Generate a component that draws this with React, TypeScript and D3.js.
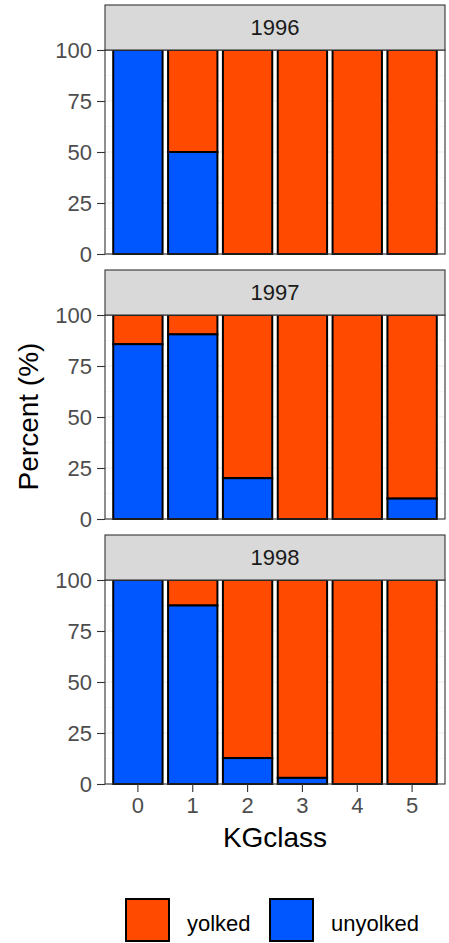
import * as d3 from "d3";
import { useEffect, useRef } from "react";

const years = ["1996", "1997", "1998"];
const classes = ["0", "1", "2", "3", "4", "5"];
const unyolked1996 = [100, 50, 0, 0, 0, 0];
const unyolked1997 = [85.7, 90.5, 20, 0, 0, 10];
const unyolked1998 = [100, 87.5, 12.7, 3, 0, 0];
const yolked1996 = [0, 50, 100, 100, 100, 100];
const yolked1997 = [14.3, 9.5, 80, 100, 100, 90];
const yolked1998 = [0, 12.5, 87.3, 97, 100, 100];
const yTicks = [0, 25, 50, 75, 100];

const seriesNames = ["yolked", "unyolked"];
const colors = { yolked: "#FF4A00", unyolked: "#0057FF" };

function App() {
  const svgRef = useRef<SVGSVGElement>(null);
  const width = 449;
  const height = 943;

  useEffect(() => {
    const svg = d3.select(svgRef.current);
    svg.selectAll("*").remove();

    const font = "'Liberation Sans', Arial, sans-serif";
    const panelLeft = 105;
    const panelRight = 445;
    const stripH = 45;
    const panelTops = [5, 270, 535]; // strip tops
    const plotH = 204;

    const unyolked = [unyolked1996, unyolked1997, unyolked1998];
    const yolked = [yolked1996, yolked1997, yolked1998];

    // ggplot style: 0.6 unit expansion each side, bar width 0.9
    const x = d3
      .scaleBand()
      .domain(classes)
      .range([panelLeft, panelRight])
      .paddingInner(0.1)
      .paddingOuter(0.15);

    years.forEach((yr, p) => {
      const top = panelTops[p] + stripH;
      const y = d3.scaleLinear().domain([0, 100]).range([top + plotH, top]);
      const g = svg.append("g");

      // grid
      const minor = [12.5, 37.5, 62.5, 87.5];
      g.selectAll(".minor")
        .data(minor)
        .join("line")
        .attr("x1", panelLeft)
        .attr("x2", panelRight)
        .attr("y1", (d) => y(d))
        .attr("y2", (d) => y(d))
        .attr("stroke", "#F2F2F2")
        .attr("stroke-width", 0.6);
      g.selectAll(".major")
        .data(yTicks)
        .join("line")
        .attr("x1", panelLeft)
        .attr("x2", panelRight)
        .attr("y1", (d) => y(d))
        .attr("y2", (d) => y(d))
        .attr("stroke", "#EBEBEB")
        .attr("stroke-width", 1);
      g.selectAll(".vgrid")
        .data(classes)
        .join("line")
        .attr("x1", (d) => x(d)! + x.bandwidth() / 2)
        .attr("x2", (d) => x(d)! + x.bandwidth() / 2)
        .attr("y1", top)
        .attr("y2", top + plotH)
        .attr("stroke", "#EBEBEB")
        .attr("stroke-width", 1);

      // stacked bars: unyolked at bottom, yolked on top
      classes.forEach((c, i) => {
        const u = unyolked[p][i];
        const yk = yolked[p][i];
        if (yk > 0) {
          g.append("rect")
            .attr("x", x(c)!)
            .attr("width", x.bandwidth())
            .attr("y", y(u + yk))
            .attr("height", y(u) - y(u + yk))
            .attr("fill", colors.yolked)
            .attr("stroke", "black")
            .attr("stroke-width", 2);
        }
        if (u > 0) {
          g.append("rect")
            .attr("x", x(c)!)
            .attr("width", x.bandwidth())
            .attr("y", y(u))
            .attr("height", y(0) - y(u))
            .attr("fill", colors.unyolked)
            .attr("stroke", "black")
            .attr("stroke-width", 2);
        }
      });

      // panel border
      g.append("rect")
        .attr("x", panelLeft)
        .attr("y", top)
        .attr("width", panelRight - panelLeft)
        .attr("height", plotH)
        .attr("fill", "none")
        .attr("stroke", "#333333")
        .attr("stroke-width", 1.1);

      // strip
      g.append("rect")
        .attr("x", panelLeft)
        .attr("y", panelTops[p])
        .attr("width", panelRight - panelLeft)
        .attr("height", stripH)
        .attr("fill", "#D9D9D9")
        .attr("stroke", "#333333")
        .attr("stroke-width", 1.1);
      g.append("text")
        .attr("x", (panelLeft + panelRight) / 2)
        .attr("y", panelTops[p] + stripH / 2)
        .attr("dy", "0.35em")
        .attr("text-anchor", "middle")
        .attr("font-family", font)
        .attr("font-size", 22)
        .attr("fill", "#1A1A1A")
        .text(yr);

      // y axis
      const yAxis = d3.axisLeft(y).tickValues(yTicks).tickSize(8).tickPadding(5);
      const ya = g
        .append("g")
        .attr("transform", `translate(${panelLeft},0)`)
        .call(yAxis);
      ya.attr("font-size", null).attr("font-family", null);
      ya.select(".domain").remove();
      ya.selectAll("line").attr("stroke", "#333333").attr("stroke-width", 1.1);
      ya.selectAll("text")
        .attr("font-family", font)
        .attr("font-size", 22)
        .attr("fill", "#4D4D4D");

      if (p === years.length - 1) {
        const xAxis = d3.axisBottom(x).tickSize(8).tickPadding(5);
        const xa = g
          .append("g")
          .attr("transform", `translate(0,${top + plotH})`)
          .call(xAxis);
        xa.attr("font-size", null).attr("font-family", null);
        xa.select(".domain").remove();
        xa.selectAll("line").attr("stroke", "#333333").attr("stroke-width", 1.1);
        xa.selectAll("text")
          .attr("font-family", font)
          .attr("font-size", 22)
          .attr("fill", "#4D4D4D");
      }
    });

    // axis titles
    svg.append("text")
      .attr("x", (panelLeft + panelRight) / 2)
      .attr("y", 847)
      .attr("text-anchor", "middle")
      .attr("font-family", font)
      .attr("font-size", 28)
      .attr("fill", "black")
      .text("KGclass");

    svg.append("text")
      .attr("transform", `translate(38,${(panelTops[0] + stripH + 783) / 2}) rotate(-90)`)
      .attr("text-anchor", "middle")
      .attr("font-family", font)
      .attr("font-size", 28)
      .attr("fill", "black")
      .text("Percent (%)");

    // legend
    const legendX = d3.scaleOrdinal<string, number>().domain(seriesNames).range([126, 270]);
    const lg = svg.append("g");
    seriesNames.forEach((s) => {
      lg.append("rect")
        .attr("x", legendX(s))
        .attr("y", 899)
        .attr("width", 43)
        .attr("height", 42)
        .attr("fill", colors[s as keyof typeof colors])
        .attr("stroke", "black")
        .attr("stroke-width", 2);
      lg.append("text")
        .attr("x", legendX(s) + 61)
        .attr("y", 931)
        .attr("font-family", font)
        .attr("font-size", 22)
        .attr("fill", "black")
        .text(s);
    });
  }, []);

  return (
    <svg
      ref={svgRef}
      width={width}
      height={height}
      style={{ position: "absolute", left: 0, top: 0, background: "white" }}
    ></svg>
  );
}

export default App;
